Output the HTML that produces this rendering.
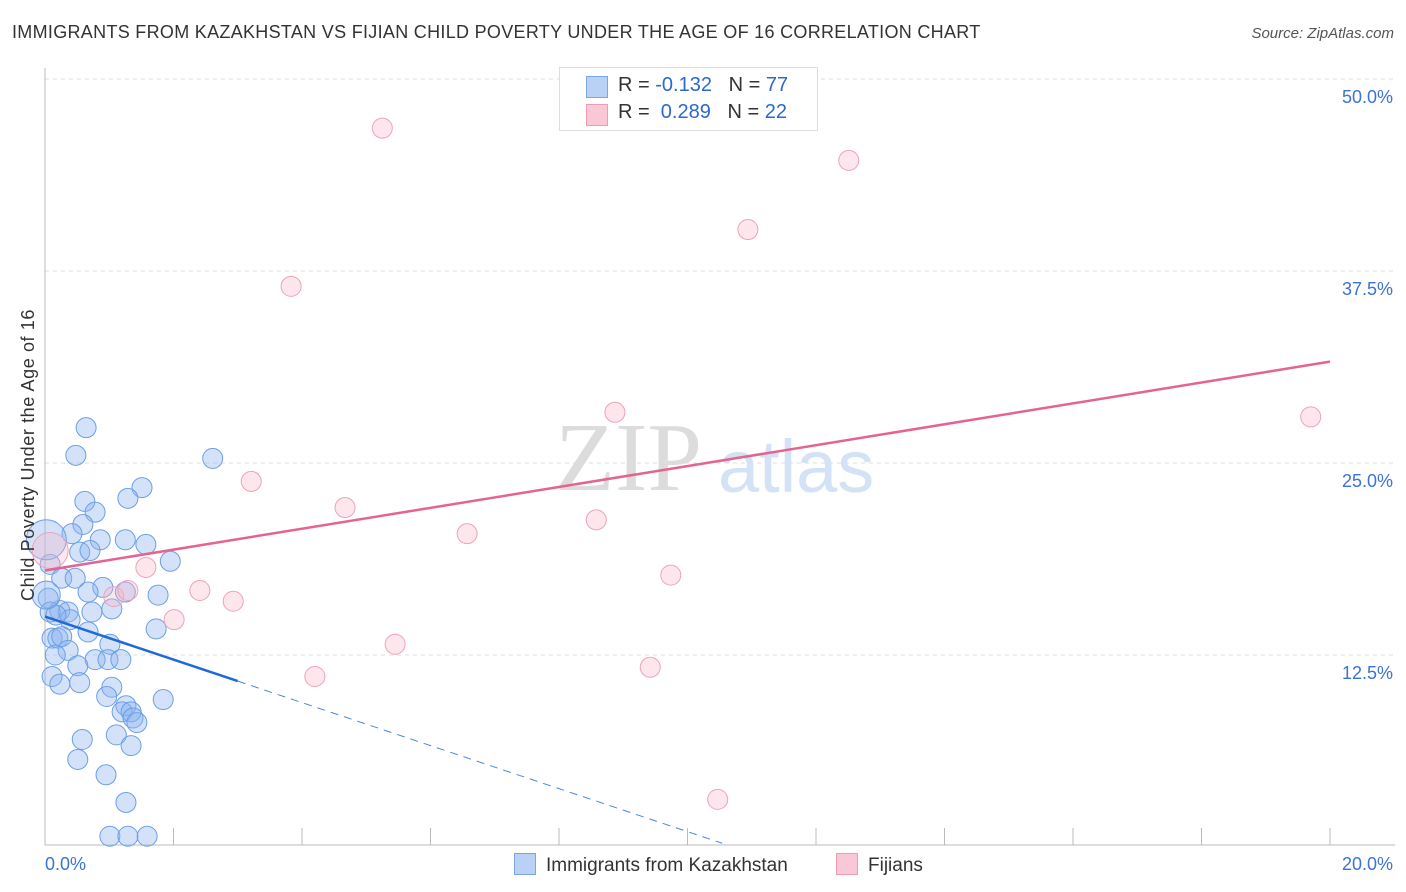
<!DOCTYPE html>
<html><head><meta charset="utf-8"><style>
body{margin:0;background:#fff;font-family:"Liberation Sans",sans-serif;}
#wrap{position:relative;width:1406px;height:892px;overflow:hidden;}
.t{position:absolute;white-space:nowrap;}
</style></head><body><div id="wrap">
<div class="t" style="left:12px;top:22px;font-size:18px;color:#333;letter-spacing:0.3px;">IMMIGRANTS FROM KAZAKHSTAN VS FIJIAN CHILD POVERTY UNDER THE AGE OF 16 CORRELATION CHART</div>
<div class="t" style="right:12px;top:25px;font-size:15px;color:#555;font-style:italic;">Source: ZipAtlas.com</div>
<svg id="svg" width="1406" height="892" style="position:absolute;left:0;top:0"></svg>
</div>
<script>
const xTicksLabels=["0.0%","20.0%"];
const yTickValues=[12.5,25,37.5,50];
const blueX=[.64,.48,2.61,1.51,.62,1.29,.78,.59,.42,1.25,.86,1.57,.54,.70,.08,1.95,.26,.47,.90,1.25,.67,1.76,.73,.23,.36,1.04,.39,.67,1.73,.11,.20,.26,1.01,.36,.16,.78,.98,1.18,.51,.11,.23,.54,1.04,.96,1.84,1.26,1.20,1.34,1.37,1.43,1.11,.58,1.34,.51,.95,1.26,1.01,1.29,1.59,.05,.08,.17,.02,.02];
const blueY=[27.3,25.5,25.3,23.4,22.5,22.7,21.8,21.0,20.4,20.0,20.0,19.7,19.2,19.3,18.4,18.6,17.5,17.5,16.9,16.6,16.6,16.4,15.3,15.4,15.3,15.5,14.8,14.0,14.2,13.6,13.6,13.7,13.2,12.8,12.5,12.2,12.2,12.2,11.8,11.1,10.6,10.7,10.4,9.8,9.6,9.2,8.8,8.8,8.4,8.1,7.3,7.0,6.6,5.7,4.7,2.9,.7,.7,.7,16.2,15.3,15.1,20.0,16.4];
const blueR=[10,10,10,10,10,10,10,10,10,10,10,10,10,10,10,10,10,10,10,10,10,10,10,10,10,10,10,10,10,10,10,10,10,10,10,10,10,10,10,10,10,10,10,10,10,10,10,10,10,10,10,10,10,10,10,10,10,10,10,10,10,10,20,14];
const pinkX=[5.25,12.51,10.94,3.83,8.87,19.70,3.21,4.67,8.58,6.57,1.57,9.74,1.07,2.41,2.93,2.01,5.45,9.42,4.20,10.47,.08,1.29];
const pinkY=[46.8,44.7,40.2,36.5,28.3,28.0,23.8,22.1,21.3,20.4,18.2,17.7,16.3,16.7,16.0,14.8,13.2,11.7,11.1,3.1,19.3,16.7];
const pinkR=[10,10,10,10,10,10,10,10,10,10,10,10,10,10,10,10,10,10,10,10,18,10];
const pinkTrend=[18.0,31.6];
const blueTrend=[15.0,10.8];
const blueSolidEnd=3.0, blueDashEnd=10.54;

const X=v=>45+v/20*1285, Y=v=>847-v/50*768;
const svg=document.getElementById('svg');const NS='http://www.w3.org/2000/svg';
function el(tag,attrs,name){const e=document.createElementNS(NS,tag);for(const k in attrs)e.setAttribute(k,attrs[k]);


svg.appendChild(e);return e;}
yTickValues.forEach(v=>{el('line',{x1:45,x2:1395,y1:Y(v),y2:Y(v),stroke:'#ddd','stroke-dasharray':'4,4'},'gridline');
const t=el('text',{x:1393,y:Y(v)+24,'text-anchor':'end','font-size':18,fill:'#3b73d6','font-family':'Liberation Sans'},'y-tick-label');t.textContent=v.toFixed(1)+'%';});
el('line',{x1:45,x2:45,y1:68,y2:845,stroke:'#bbb'},'y-axis');
el('line',{x1:45,x2:1395,y1:845,y2:845,stroke:'#bbb'},'x-axis');
for(let i=1;i<=10;i++)el('line',{x1:45+i*128.5,x2:45+i*128.5,y1:828,y2:845,stroke:'#bbb'},'x-tick');
let w=el('text',{x:555,y:490,'font-size':98,fill:'#dcdcdc','font-family':'Liberation Serif'},'watermark-zip');w.textContent='ZIP';
w=el('text',{x:718,y:492,'font-size':74,fill:'#d4e2f5','font-family':'Liberation Sans'},'watermark-atlas');w.textContent='atlas';
blueX.forEach((x,i)=>el('circle',{cx:X(x),cy:Y(blueY[i]),r:blueR[i],fill:'rgba(140,180,238,0.38)',stroke:'#6b9fe6','stroke-width':1},'blue-point'));
pinkX.forEach((x,i)=>el('circle',{cx:X(x),cy:Y(pinkY[i]),r:pinkR[i],fill:'rgba(248,180,200,0.32)',stroke:'#eea2ba','stroke-width':1},'pink-point'));
el('line',{x1:X(0),y1:Y(pinkTrend[0]),x2:X(20),y2:Y(pinkTrend[1]),stroke:'#e5638f','stroke-width':2.5},'pink-trendline');
const bs=(blueTrend[1]-blueTrend[0])/blueSolidEnd;
el('line',{x1:X(0),y1:Y(blueTrend[0]),x2:X(blueSolidEnd),y2:Y(blueTrend[1]),stroke:'#1f6ad6','stroke-width':2.5},'blue-trendline');
el('line',{x1:X(blueSolidEnd),y1:Y(blueTrend[1]),x2:X(blueDashEnd),y2:Y(blueTrend[0]+bs*blueDashEnd),stroke:'#4d86dc','stroke-width':1,'stroke-dasharray':'8,6'},'blue-trendline-extension');
let t=el('text',{x:45,y:870,'font-size':18,fill:'#3b73d6','font-family':'Liberation Sans'},'x-tick-label');t.textContent=xTicksLabels[0];
t=el('text',{x:1393,y:870,'text-anchor':'end','font-size':18,fill:'#3b73d6','font-family':'Liberation Sans'},'x-tick-label');t.textContent=xTicksLabels[1];
t=el('text',{x:0,y:0,'font-size':18,fill:'#333','font-family':'Liberation Sans','text-anchor':'middle','letter-spacing':'0.6',transform:'translate(34,455) rotate(-90)'},'y-axis-title');t.textContent='Child Poverty Under the Age of 16';
</script>
<div class="t" style="left:559px;top:67px;width:257px;height:62px;border:1px solid #ddd;background:#fff;font-size:20px;">
<div style="position:absolute;left:26px;top:8px;width:20px;height:20px;background:#b9d1f5;border:1px solid #7aa6e8"></div>
<div style="position:absolute;left:58px;top:6px;color:#333">R = <span style="color:#2c68cf">-0.132</span>&nbsp;&nbsp;&nbsp;N = <span style="color:#2c68cf">77</span></div>
<div style="position:absolute;left:26px;top:36px;width:20px;height:20px;background:#f9c7d5;border:1px solid #ee9cb4"></div>
<div style="position:absolute;left:58px;top:33px;color:#333">R = &nbsp;<span style="color:#2c68cf">0.289</span>&nbsp;&nbsp;&nbsp;N = <span style="color:#2c68cf">22</span></div>
</div>
<div class="t" style="left:514px;top:853px;font-size:19px;color:#333;"><span style="display:inline-block;width:20px;height:20px;background:#b9d1f5;border:1px solid #7aa6e8;vertical-align:-4px;margin-right:10px"></span>Immigrants from Kazakhstan</div>
<div class="t" style="left:836px;top:853px;font-size:19px;color:#333;"><span style="display:inline-block;width:20px;height:20px;background:#f9c7d5;border:1px solid #ee9cb4;vertical-align:-4px;margin-right:10px"></span>Fijians</div>
</body></html>
